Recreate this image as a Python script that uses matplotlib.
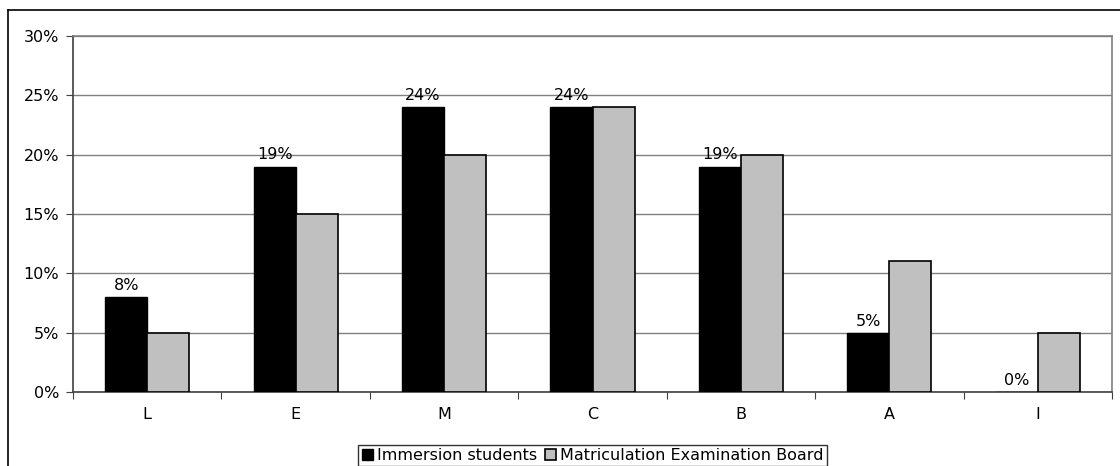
import matplotlib
matplotlib.use("Agg")
import matplotlib.pyplot as plt
from matplotlib.lines import Line2D
from matplotlib.patches import Patch
import numpy as np

categories = ["L", "E", "M", "C", "B", "A", "I"]
immersion = [8, 19, 24, 24, 19, 5, 0]
board = [5, 15, 20, 24, 20, 11, 5]
series_names = ["Immersion students", "Matriculation Examination Board"]
yticks = [0, 5, 10, 15, 20, 25, 30]

plt.rcParams['font.family'] = ['DejaVu Sans']
FS = 11.5
W, H = 1120, 466
fig = plt.figure(figsize=(W / 100, H / 100), dpi=100)

# outer frame (left and top visible)
fig.add_artist(Line2D([7.5 / W, 7.5 / W], [0, 1 - 9.5 / H], transform=fig.transFigure, color='black', lw=1.2))
fig.add_artist(Line2D([7.5 / W, 1.0], [1 - 9.5 / H, 1 - 9.5 / H], transform=fig.transFigure, color='black', lw=1.2))

ax = fig.add_axes([73 / W, (H - 392) / H, (1112 - 73) / W, (392 - 36) / H])
x = np.arange(len(categories))
bw = 0.283
ax.bar(x - bw / 2, immersion, bw, color='black', edgecolor='black', linewidth=1, zorder=3)
ax.bar(x + bw / 2, board, bw, color='#C0C0C0', edgecolor='black', linewidth=1.2, zorder=3)

for xi, v in zip(x, immersion):
    ax.annotate(f"{v}%", (xi - bw / 2, v), xytext=(0, 3), textcoords='offset points',
                ha='center', va='bottom', fontsize=FS, zorder=4)

ax.set_xlim(-0.5, len(categories) - 0.5)
ax.set_ylim(0, 30)
ax.set_yticks(yticks)
ax.set_yticklabels([f"{t}%" for t in yticks], fontsize=FS)
ax.yaxis.grid(True, color='#808080', lw=1, zorder=0)
ax.set_axisbelow(True)

ax.set_xticks(np.arange(-0.5, len(categories), 1.0))
ax.set_xticklabels([])
ax.set_xticks(x, minor=True)
ax.set_xticklabels(categories, minor=True, fontsize=FS)
ax.tick_params(axis='x', which='minor', length=0, pad=11)
ax.tick_params(axis='x', which='major', length=5, color='#404040', direction='out')
ax.tick_params(axis='y', length=5, color='#404040', direction='out', pad=5)

for s in ['top', 'right']:
    ax.spines[s].set_color('#808080')
    ax.spines[s].set_linewidth(1.2)
for s in ['left', 'bottom']:
    ax.spines[s].set_color('#404040')
    ax.spines[s].set_linewidth(1.2)

handles = [Patch(facecolor='black', edgecolor='black'),
           Patch(facecolor='#C0C0C0', edgecolor='black', linewidth=1.2)]
leg = fig.legend(handles, series_names, loc='upper center', ncol=2,
                 bbox_to_anchor=((354 + 831) / 2 / W, (H - 445) / H),
                 fontsize=FS, frameon=True, fancybox=False, edgecolor='black',
                 handlelength=0.7, handleheight=0.7, handletextpad=0.25,
                 columnspacing=0.5, borderpad=0.2, borderaxespad=0)
leg.get_frame().set_linewidth(1.0)

fig.savefig("out.png", dpi=100)
